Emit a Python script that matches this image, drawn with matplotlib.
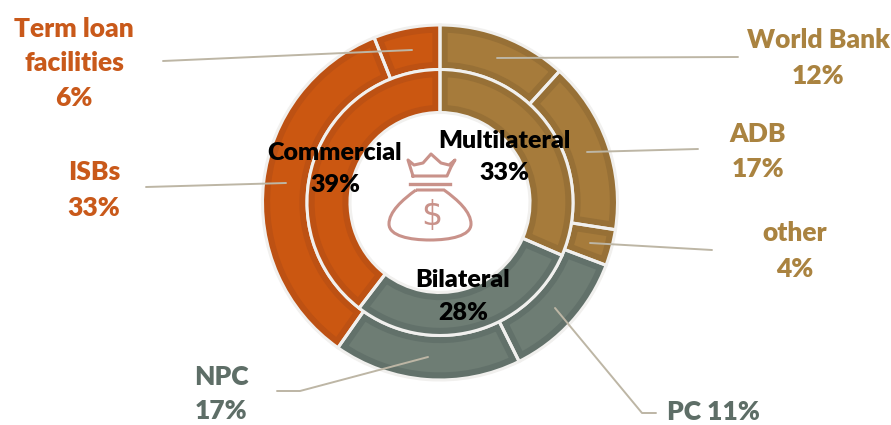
import numpy as np
import matplotlib
matplotlib.use("Agg")
import matplotlib.pyplot as plt
from matplotlib.path import Path
from matplotlib.patches import PathPatch

plt.rcParams['font.family'] = ['Lato', 'DejaVu Sans']

# outer ring, clockwise from the top
# shares are read off the drawn arcs, they differ a bit from the printed percentages
outer_names = ['World Bank', 'ADB', 'other', 'PC', 'NPC', 'ISBs', 'Term loan']
outer_vals = [11.75, 15.7, 3.3, 11.9, 17.1, 34.2, 6.05]
# inner ring
inner_names = ['Multilateral', 'Bilateral', 'Commercial']
inner_vals = [31.5, 28.9, 39.6]

BROWN = '#A67B3B'
GREY = '#6E7D74'
ORANGE = '#CB5711'
outer_cols = [BROWN, BROWN, BROWN, GREY, GREY, ORANGE, ORANGE]
inner_cols = [BROWN, GREY, ORANGE]
dark = {BROWN: '#977036', GREY: '#62716A', ORANGE: '#BD5113'}
line_col = '#BDB6A5'

W, H = 891, 425
fig = plt.figure(figsize=(W / 100, H / 100), dpi=100)
ax = fig.add_axes([0, 0, 1, 1])


# the reference was measured in pixels from the top left
def Y(y):
    return H - y


cx, cy = 440, Y(202.5)
R_out, R_mid, R_in = 177.5, 133, 90


def ring(vals, cols, radius, width):
    wedges, _ = ax.pie(vals, colors=cols, radius=radius, center=(cx, cy), startangle=90,
                       counterclock=False, frame=True,
                       wedgeprops=dict(width=width, linewidth=0))
    for w, c in zip(wedges, cols):
        # darker band along the inside of each wedge
        w.set_edgecolor(dark[c])
        w.set_linewidth(11)
        w.set_clip_on(True)   # pie turns clipping off
        w.set_clip_path(w)
    # white gaps between the wedges
    ax.pie(vals, colors=['none'] * len(vals), radius=radius, center=(cx, cy), startangle=90,
           counterclock=False, frame=True,
           wedgeprops=dict(width=width, linewidth=2.2, edgecolor='#F1F0EE'))


ring(outer_vals, outer_cols, R_out, R_out - R_mid)
ring(inner_vals, inner_cols, R_mid, R_mid - R_in)

ax.set_xlim(0, W)
ax.set_ylim(0, H)
ax.set_aspect('equal')
ax.axis('off')

# leader lines
leaders = [
    ([163, 412], [61, 50]),
    ([146, 286], [187, 183]),
    ([497, 738], [58, 57]),
    ([587, 698], [152, 149]),
    ([590, 712], [243, 250]),
    ([555, 642, 656], [308, 413, 413]),
    ([428, 300, 277], [357, 391, 391]),
]
for xs, ys in leaders:
    ax.plot(xs, [Y(y) for y in ys], color=line_col, lw=1.4, solid_capstyle='round')

# money bag icon
ICON = '#C9928A'
crown_x = [413, 408, 414, 423, 431, 441, 449, 455, 451, 447, 417, 413]
crown_y = [176, 160, 165, 163, 154, 163, 165, 160, 167, 176, 176, 176]
ax.plot(crown_x, [Y(y) for y in crown_y], color=ICON, lw=2.2, solid_joinstyle='round')
ax.plot([410, 450], [Y(184), Y(184)], color=ICON, lw=2.4)
bag = [(416, 190), (402, 200), (389, 212), (389, 224), (389, 236), (410, 240), (430, 240),
       (450, 240), (471, 236), (471, 224), (471, 212), (458, 200), (444, 190), (416, 190)]
bag_codes = [Path.MOVETO] + [Path.CURVE4] * 12 + [Path.LINETO]
ax.add_patch(PathPatch(Path([(x, Y(y)) for x, y in bag], bag_codes), fc='none', ec=ICON, lw=2.2))
ax.text(432, Y(215), '$', color=ICON, fontsize=24, ha='center', va='center', fontfamily='DejaVu Sans')

# outer labels
ORANGE_T, BROWN_T, GREY_T = '#C9591A', '#AA8340', '#5E6E67'
labels = [
    ('Term loan', 74, 29, ORANGE_T), ('facilities', 74, 63, ORANGE_T), ('6%', 74, 98, ORANGE_T),
    ('ISBs', 94, 172, ORANGE_T), ('33%', 94, 208, ORANGE_T),
    ('World Bank', 818, 40, BROWN_T), ('12%', 818, 76, BROWN_T),
    ('ADB', 758, 134, BROWN_T), ('17%', 758, 169, BROWN_T),
    ('other', 795, 233, BROWN_T), ('4%', 795, 269, BROWN_T),
    ('NPC', 221, 377, GREY_T), ('17%', 221, 411, GREY_T),
    ('PC 11%', 713, 412, GREY_T),
]
for s, x, y, c in labels:
    ax.text(x, Y(y), s, color=c, fontsize=19, fontweight=800, ha='center', va='center')

# inner labels
inner_text = [
    ('Commercial', 335, 153), ('39%', 335, 185),
    ('Multilateral', 504, 141), ('33%', 504, 173),
    ('Bilateral', 463, 280), ('28%', 463, 313),
]
for s, x, y in inner_text:
    ax.text(x, Y(y), s, color='black', fontsize=18, fontweight=800, ha='center', va='center')

fig.savefig('out.png', dpi=100)
